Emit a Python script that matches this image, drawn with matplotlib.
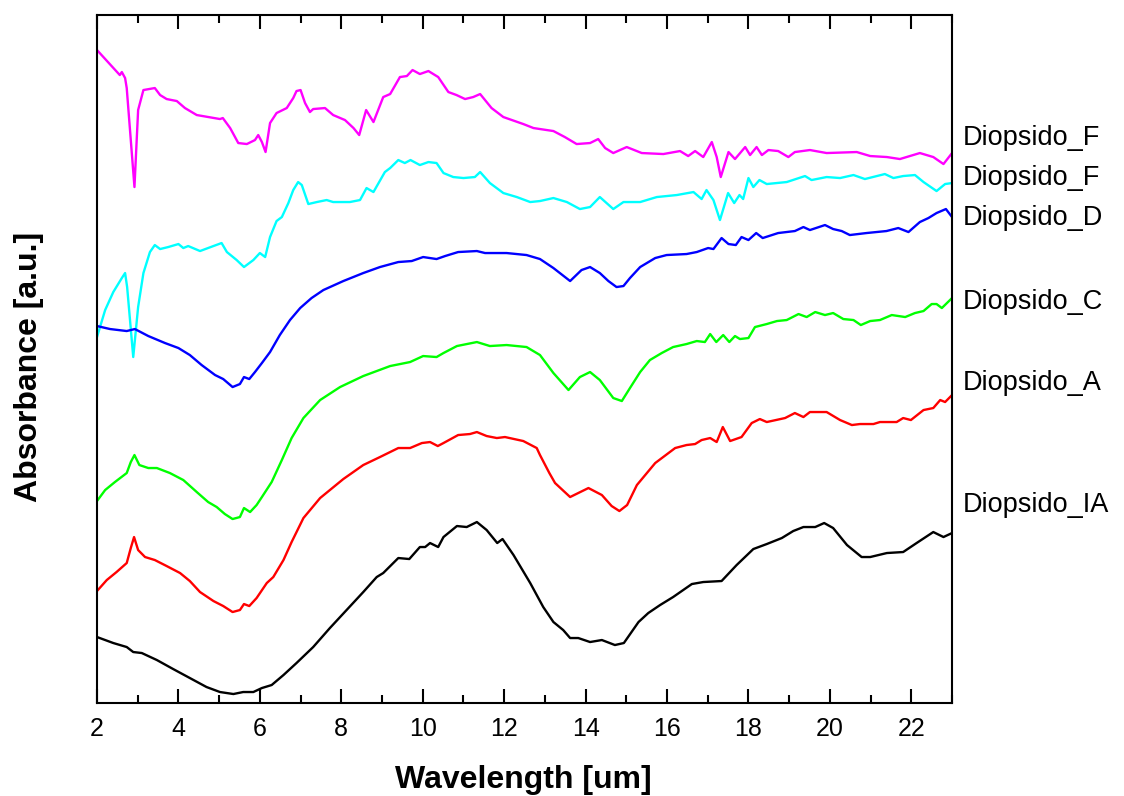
import numpy as np
import matplotlib
matplotlib.use("Agg")
import matplotlib.pyplot as plt
import matplotlib.transforms as mtransforms
from matplotlib.ticker import MultipleLocator

plt.rcParams['font.family'] = ['Liberation Sans', 'DejaVu Sans']

# --- datos (longitud de onda en um, absorbancia a.u.) ---
x_F1 = [2.00, 2.56, 2.61, 2.69, 2.73, 2.92, 3.01, 3.14, 3.42, 3.55, 3.71, 3.96, 4.16, 4.45, 5.02, 5.09,
        5.27, 5.47, 5.68, 5.88, 5.96, 6.05, 6.14, 6.25, 6.41, 6.66, 6.82, 6.90, 7.00, 7.11, 7.23, 7.31,
        7.60, 7.80, 8.09, 8.30, 8.44, 8.61, 8.79, 9.03, 9.20, 9.44, 9.61, 9.75, 9.93, 10.14, 10.38, 10.63,
        10.83, 11.04, 11.24, 11.41, 11.69, 11.98, 12.47, 12.72, 12.88, 13.21, 13.49, 13.78, 14.11, 14.31,
        14.48, 14.68, 15.01, 15.38, 15.91, 16.32, 16.52, 16.69, 16.89, 17.10, 17.22, 17.32, 17.51, 17.67,
        17.92, 18.04, 18.20, 18.33, 18.49, 18.73, 18.98, 19.14, 19.51, 19.92, 20.66, 20.99, 21.40, 21.72,
        22.21, 22.54, 22.79, 23.00]
y_F1 = [6.53, 6.28, 6.31, 6.25, 6.15, 5.16, 5.93, 6.13, 6.15, 6.08, 6.04, 6.02, 5.95, 5.88, 5.84, 5.85,
        5.75, 5.60, 5.59, 5.63, 5.68, 5.61, 5.51, 5.80, 5.90, 5.95, 6.05, 6.12, 6.13, 6.00, 5.91, 5.94,
        5.95, 5.88, 5.83, 5.75, 5.68, 5.93, 5.81, 6.06, 6.09, 6.26, 6.27, 6.33, 6.29, 6.32, 6.26, 6.11,
        6.08, 6.04, 6.06, 6.09, 5.95, 5.86, 5.79, 5.75, 5.74, 5.72, 5.66, 5.59, 5.60, 5.64,
        5.55, 5.50, 5.56, 5.50, 5.49, 5.52, 5.47, 5.52, 5.46, 5.61, 5.46, 5.26, 5.51, 5.44,
        5.56, 5.48, 5.56, 5.48, 5.53, 5.52, 5.46, 5.51, 5.53, 5.50, 5.51, 5.47, 5.46, 5.44,
        5.50, 5.46, 5.39, 5.50]

x_F2 = [2.00, 2.20, 2.40, 2.61, 2.69, 2.74, 2.89, 3.01, 3.14, 3.30, 3.42, 3.55, 3.75, 4.00, 4.12, 4.24,
        4.53, 4.86, 5.06, 5.19, 5.43, 5.61, 5.84, 6.00, 6.13, 6.25, 6.41, 6.54, 6.70, 6.82, 6.94, 7.03,
        7.19, 7.40, 7.64, 7.80, 8.21, 8.46, 8.62, 8.79, 9.07, 9.20, 9.40, 9.56, 9.70, 9.93, 10.14, 10.34,
        10.51, 10.75, 11.00, 11.28, 11.41, 11.65, 11.98, 12.31, 12.64, 12.88, 13.21, 13.54, 13.86, 14.11,
        14.35, 14.68, 14.93, 15.34, 15.75, 16.24, 16.65, 16.85, 16.97, 17.14, 17.30, 17.50, 17.65, 17.78,
        17.87, 18.00, 18.12, 18.27, 18.45, 18.94, 19.39, 19.55, 19.92, 20.25, 20.58, 20.86, 21.35, 21.56,
        21.80, 22.09, 22.30, 22.62, 22.83, 23.00]
y_F2 = [3.66, 3.93, 4.11, 4.25, 4.30, 4.16, 3.46, 3.96, 4.30, 4.51, 4.58, 4.54, 4.56, 4.59, 4.55, 4.57,
        4.52, 4.57, 4.60, 4.51, 4.43, 4.36, 4.43, 4.50, 4.46, 4.66, 4.82, 4.86, 5.00, 5.13, 5.21, 5.18,
        4.99, 5.01, 5.03, 5.01, 5.01, 5.03, 5.15, 5.11, 5.31, 5.35, 5.43, 5.40, 5.43, 5.38, 5.41, 5.40,
        5.30, 5.26, 5.25, 5.26, 5.31, 5.20, 5.10, 5.06, 5.01, 5.02, 5.05, 5.01, 4.94, 4.96,
        5.06, 4.94, 5.01, 5.01, 5.06, 5.08, 5.11, 5.04, 5.13, 5.03, 4.83, 5.10, 5.00, 5.08,
        5.04, 5.25, 5.16, 5.23, 5.19, 5.21, 5.27, 5.23, 5.26, 5.25, 5.28, 5.24, 5.29, 5.25,
        5.27, 5.28, 5.21, 5.12, 5.19, 5.20]

x_D = [2.00, 2.32, 2.73, 2.93, 3.26, 3.67, 4.00, 4.28, 4.57, 4.90, 5.10, 5.33, 5.51, 5.61, 5.74, 5.88,
       6.05, 6.25, 6.49, 6.74, 6.99, 7.27, 7.56, 8.05, 8.54, 8.95, 9.40, 9.73, 10.01, 10.34, 10.55, 10.87,
       11.33, 11.53, 12.06, 12.55, 12.88, 13.21, 13.62, 13.90, 14.11, 14.35, 14.56, 14.76, 14.93, 15.09,
       15.34, 15.71, 15.99, 16.48, 16.73, 17.01, 17.14, 17.34, 17.51, 17.69, 17.83, 18.00, 18.19, 18.35,
       18.73, 19.14, 19.35, 19.51, 19.88, 20.08, 20.29, 20.49, 20.90, 21.39, 21.68, 21.93, 22.21, 22.42,
       22.62, 22.85, 23.00]
y_D = [3.77, 3.74, 3.72, 3.74, 3.67, 3.60, 3.55, 3.48, 3.38, 3.28, 3.24, 3.16, 3.19, 3.26, 3.24, 3.31,
       3.40, 3.51, 3.68, 3.83, 3.95, 4.05, 4.13, 4.22, 4.30, 4.36, 4.41, 4.42, 4.46, 4.44, 4.47, 4.51,
       4.52, 4.50, 4.50, 4.48, 4.44, 4.35, 4.22, 4.33, 4.36, 4.30, 4.22, 4.16, 4.17, 4.25,
       4.36, 4.45, 4.48, 4.49, 4.51, 4.55, 4.54, 4.65, 4.59, 4.58, 4.66, 4.63, 4.70, 4.65,
       4.70, 4.72, 4.76, 4.73, 4.78, 4.74, 4.72, 4.68, 4.70, 4.72, 4.75, 4.71, 4.81, 4.85,
       4.90, 4.94, 4.86]

x_C = [2.00, 2.20, 2.44, 2.73, 2.83, 2.92, 3.04, 3.26, 3.47, 3.79, 4.12, 4.45, 4.73, 4.94, 5.14, 5.33,
       5.51, 5.61, 5.76, 5.92, 6.05, 6.29, 6.54, 6.78, 7.07, 7.48, 7.97, 8.54, 9.20, 9.69, 10.01, 10.34,
       10.51, 10.84, 11.33, 11.65, 12.06, 12.55, 12.88, 13.21, 13.58, 13.86, 14.11, 14.35, 14.68, 14.89,
       15.09, 15.34, 15.58, 15.87, 16.15, 16.48, 16.73, 16.93, 17.06, 17.21, 17.38, 17.53, 17.67, 17.79,
       18.00, 18.16, 18.45, 18.70, 18.94, 19.23, 19.43, 19.64, 19.88, 20.08, 20.33, 20.58, 20.76, 20.99,
       21.23, 21.52, 21.85, 22.09, 22.30, 22.50, 22.62, 22.75, 23.00]
y_C = [2.02, 2.13, 2.21, 2.30, 2.41, 2.48, 2.38, 2.35, 2.35, 2.30, 2.23, 2.11, 2.01, 1.96, 1.89, 1.84,
       1.86, 1.95, 1.91, 1.98, 2.06, 2.21, 2.43, 2.65, 2.85, 3.03, 3.16, 3.27, 3.37, 3.41, 3.47, 3.46,
       3.50, 3.57, 3.61, 3.57, 3.58, 3.56, 3.48, 3.30, 3.13, 3.26, 3.31, 3.23, 3.05, 3.02,
       3.15, 3.31, 3.43, 3.50, 3.56, 3.59, 3.62, 3.61, 3.69, 3.61, 3.68, 3.61, 3.67, 3.64,
       3.65, 3.76, 3.79, 3.82, 3.83, 3.89, 3.86, 3.91, 3.88, 3.90, 3.84, 3.83, 3.78, 3.82,
       3.83, 3.88, 3.86, 3.90, 3.92, 3.99, 3.99, 3.95, 4.05]

x_A = [2.00, 2.24, 2.48, 2.73, 2.83, 2.91, 3.01, 3.18, 3.42, 3.71, 4.04, 4.28, 4.53, 4.86, 5.10, 5.33,
       5.51, 5.61, 5.74, 5.92, 6.17, 6.33, 6.58, 6.78, 7.07, 7.48, 8.05, 8.54, 8.95, 9.40, 9.69, 9.98,
       10.18, 10.37, 10.51, 10.87, 11.16, 11.33, 11.57, 11.82, 12.02, 12.47, 12.80, 12.88, 13.11, 13.25,
       13.62, 14.07, 14.40, 14.64, 14.83, 15.02, 15.26, 15.71, 16.20, 16.48, 16.69, 16.85, 17.06, 17.22,
       17.37, 17.55, 17.83, 18.08, 18.28, 18.45, 18.90, 19.14, 19.35, 19.51, 19.92, 20.25, 20.54, 20.74,
       21.07, 21.23, 21.64, 21.80, 21.99, 22.30, 22.54, 22.71, 22.83, 23.00]
y_A = [1.12, 1.23, 1.31, 1.40, 1.55, 1.66, 1.53, 1.46, 1.43, 1.37, 1.30, 1.22, 1.11, 1.02, 0.97, 0.91,
       0.93, 0.99, 0.97, 1.05, 1.20, 1.26, 1.43, 1.61, 1.85, 2.05, 2.24, 2.38, 2.46, 2.55, 2.55, 2.60,
       2.61, 2.57, 2.60, 2.68, 2.69, 2.71, 2.67, 2.65, 2.66, 2.62, 2.55, 2.48, 2.30, 2.20,
       2.06, 2.15, 2.08, 1.97, 1.92, 1.98, 2.18, 2.40, 2.55, 2.58, 2.59, 2.63, 2.65, 2.61,
       2.76, 2.62, 2.66, 2.80, 2.84, 2.81, 2.85, 2.90, 2.86, 2.91, 2.91, 2.83, 2.78, 2.79,
       2.79, 2.81, 2.81, 2.85, 2.83, 2.93, 2.95, 3.03, 3.01, 3.08]

x_IA = [2.00, 2.40, 2.73, 2.89, 3.10, 3.47, 3.87, 4.28, 4.69, 5.02, 5.35, 5.59, 5.84, 6.05, 6.29, 6.58,
        6.90, 7.31, 7.72, 8.13, 8.54, 8.87, 9.03, 9.40, 9.67, 9.93, 10.06, 10.18, 10.38, 10.51, 10.84,
        11.08, 11.33, 11.57, 11.83, 11.96, 12.23, 12.64, 12.96, 13.21, 13.45, 13.62, 13.82, 14.11, 14.40,
        14.72, 14.94, 15.30, 15.54, 15.83, 16.15, 16.61, 16.89, 17.34, 17.71, 18.12, 18.45, 18.82, 19.10,
        19.35, 19.64, 19.86, 20.08, 20.42, 20.78, 20.99, 21.40, 21.80, 22.13, 22.54, 22.79, 23.00]
y_IA = [0.66, 0.60, 0.56, 0.51, 0.50, 0.43, 0.34, 0.25, 0.16, 0.11, 0.09, 0.11, 0.11, 0.15, 0.18, 0.28,
        0.40, 0.56, 0.75, 0.93, 1.11, 1.26, 1.30, 1.45, 1.44, 1.56, 1.56, 1.60, 1.56, 1.66, 1.77,
        1.76, 1.81, 1.73, 1.60, 1.64, 1.48, 1.20, 0.96, 0.81, 0.73, 0.65, 0.65, 0.61, 0.63,
        0.58, 0.60, 0.81, 0.90, 0.98, 1.06, 1.19, 1.21, 1.22, 1.38, 1.54, 1.59, 1.65, 1.72,
        1.76, 1.76, 1.80, 1.75, 1.58, 1.46, 1.46, 1.50, 1.51, 1.60, 1.71, 1.66, 1.70]

nombres = ['Diopsido_F', 'Diopsido_F', 'Diopsido_D', 'Diopsido_C', 'Diopsido_A', 'Diopsido_IA']
colores = ['#FF00FF', '#00FFFF', '#0000FF', '#00FF00', '#FF0000', '#000000']
y_etiquetas = [5.65, 5.25, 4.85, 4.01, 3.20, 1.98]

series = [(x_F1, y_F1), (x_F2, y_F2), (x_D, y_D), (x_C, y_C), (x_A, y_A), (x_IA, y_IA)]

fig = plt.figure(figsize=(11.24, 7.96), dpi=100)
ax = fig.add_axes([0.0863, 0.1168, 0.7607, 0.8643])

for (xs, ys), col in zip(series, colores):
    ax.plot(xs, ys, color=col, lw=1.7)

ax.set_xlim(2, 23)
ax.set_ylim(0, 6.88)
ax.xaxis.set_major_locator(MultipleLocator(2))
ax.xaxis.set_minor_locator(MultipleLocator(1))
ax.set_yticks([])
ax.tick_params(axis='x', which='both', direction='in', top=True, width=1.5, labelsize=18, pad=10)
ax.tick_params(axis='x', which='major', length=10)
ax.tick_params(axis='x', which='minor', length=5.5)
for s in ax.spines.values():
    s.set_linewidth(1.5)

# etiquetas a la derecha
trans = mtransforms.blended_transform_factory(ax.transAxes, ax.transData)
for nom, yy in zip(nombres, y_etiquetas):
    ax.text(1.013, yy, nom, transform=trans, ha='left', va='center', fontsize=19.5, clip_on=False)

fig.text(0.466, 0.020, 'Wavelength [um]', ha='center', va='center', fontsize=23, fontweight='bold')
fig.text(0.026, 0.539, 'Absorbance [a.u.]', ha='center', va='center', rotation=90,
         fontsize=23, fontweight='bold')

fig.savefig('out.png', dpi=100)
